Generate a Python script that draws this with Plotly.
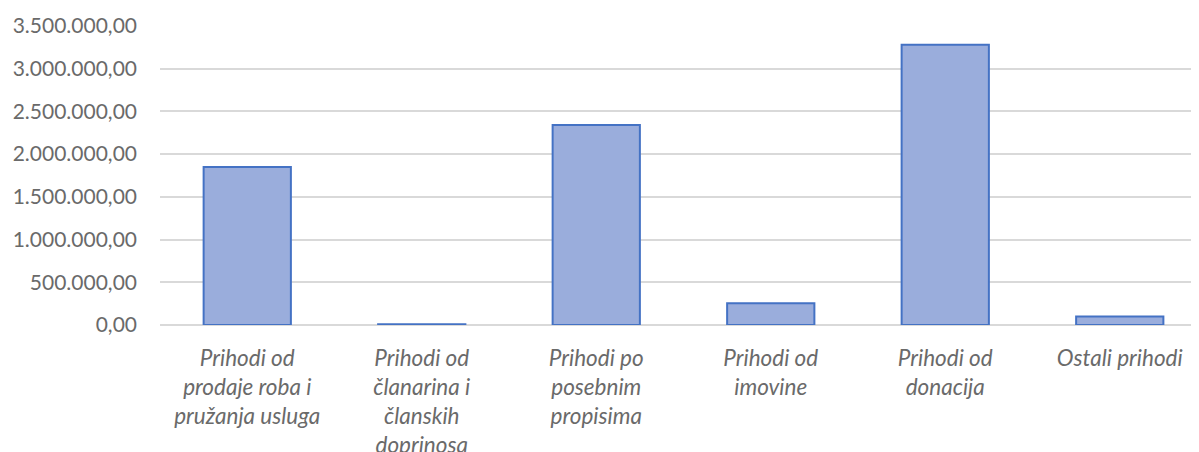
import plotly.graph_objects as go

categories = [
    "Prihodi od<br>prodaje roba i<br>pružanja usluga",
    "Prihodi od<br>članarina i<br>članskih<br>doprinosa",
    "Prihodi po<br>posebnim<br>propisima",
    "Prihodi od<br>imovine",
    "Prihodi od<br>donacija",
    "Ostali prihodi",
]
values = [1850000, 10000, 2340000, 255000, 3280000, 100000]
y_ticks = [0, 500000, 1000000, 1500000, 2000000, 2500000, 3000000, 3500000]

fig = go.Figure()
fig.add_trace(go.Bar(
    x=categories,
    y=values,
    marker=dict(color="#9AADDC", line=dict(color="#4472C4", width=2)),
    width=0.5,
))

text_color = "#6A6A6A"
font_family = "Lato, 'Open Sans', sans-serif"

fig.update_layout(
    width=1199,
    height=452,
    margin=dict(l=152, r=0, t=18, b=135, autoexpand=False),
    plot_bgcolor="white",
    paper_bgcolor="white",
    separators=",.",
    showlegend=False,
    font=dict(family=font_family, size=21, color=text_color),
    xaxis=dict(
        range=[-0.5, 5.5],
        automargin=False,
        showgrid=False,
        showline=False,
        ticks="",
        tickangle=0,
        tickfont=dict(family=font_family, size=22.5, color=text_color, style="italic"),
        ticklabelstandoff=17,
    ),
    yaxis=dict(
        range=[0, 3500000],
        automargin=False,
        tickvals=y_ticks,
        tickformat=",.2f",
        showgrid=True,
        gridcolor="#D9D9D9",
        gridwidth=1.5,
        zeroline=True,
        zerolinecolor="#D9D9D9",
        zerolinewidth=1.5,
        showline=False,
        ticks="",
        ticklabelstandoff=22,
        tickfont=dict(family=font_family, size=21, color=text_color),
    ),
)

fig.write_html("out.html")
